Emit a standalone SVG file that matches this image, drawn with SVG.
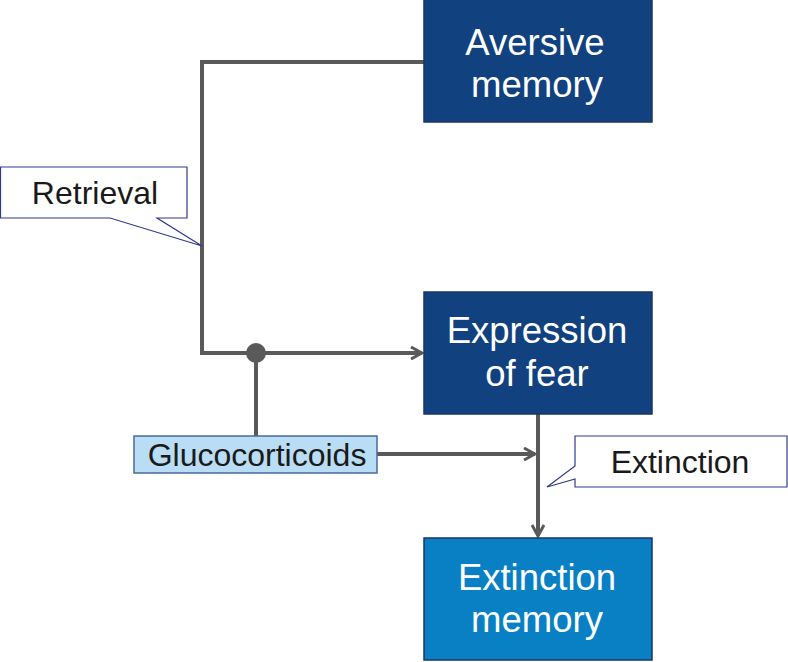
<svg xmlns="http://www.w3.org/2000/svg" width="788" height="662" viewBox="0 0 788 662">
<defs>
<style>
.box{stroke:#1d3462;stroke-width:1.5}
.dark{fill:#12417f}
.light{fill:#0a80c4}
.big{font-family:"Liberation Sans",Arial,sans-serif;font-size:36.5px;fill:#ffffff;text-anchor:middle}
.lab{font-family:"Liberation Sans",Arial,sans-serif;font-size:32px;fill:#1a1a1a;text-anchor:middle}
.conn{stroke:#5a5a5a;stroke-width:4;fill:none}
.callout{fill:#ffffff;stroke:#2e3a8c;stroke-width:1.2}
</style>
<marker id="arr" viewBox="0 0 14 14" refX="12" refY="7" markerWidth="14" markerHeight="14" markerUnits="userSpaceOnUse" orient="auto">
<path d="M1,1 L12,7 L1,13" fill="none" stroke="#5a5a5a" stroke-width="3"/>
</marker>
</defs>
<rect width="788" height="662" fill="#ffffff"/>
<g id="connectors">
<path class="conn" d="M424,62 H202 V353 H422" marker-end="url(#arr)"/>
<path class="conn" d="M256,353 V436"/>
<circle cx="256" cy="353" r="10" fill="#5a5a5a"/>
<path class="conn" d="M377,454 H535" marker-end="url(#arr)"/>
<path class="conn" d="M538,414 V536" marker-end="url(#arr)"/>
</g>
<g id="aversive-memory">
<rect class="box dark" x="424" y="-1" width="228" height="123"/>
<text class="big" x="535" y="55">Aversive</text>
<text class="big" x="537" y="97">memory</text>
</g>
<g id="expression-of-fear">
<rect class="box dark" x="424" y="292" width="228" height="122"/>
<text class="big" x="537" y="343">Expression</text>
<text class="big" x="537" y="386">of fear</text>
</g>
<g id="extinction-memory">
<rect class="box light" x="424" y="538" width="228" height="122"/>
<text class="big" x="537" y="590">Extinction</text>
<text class="big" x="537" y="632">memory</text>
</g>
<g id="glucocorticoids">
<rect x="134" y="436" width="243" height="37" fill="#b9ddf5" stroke="#4a6aa0" stroke-width="1.5"/>
<text class="lab" x="257" y="466">Glucocorticoids</text>
</g>
<g id="retrieval">
<path class="callout" d="M0.5,167 H187 V218 H157 L202,246 L110,218 H0.5 Z"/>
<text class="lab" x="95" y="204">Retrieval</text>
</g>
<g id="extinction">
<path class="callout" d="M575,436 H787 V487 H575 V479 L547,487 L575,466 Z"/>
<text class="lab" x="680" y="473">Extinction</text>
</g>
</svg>
